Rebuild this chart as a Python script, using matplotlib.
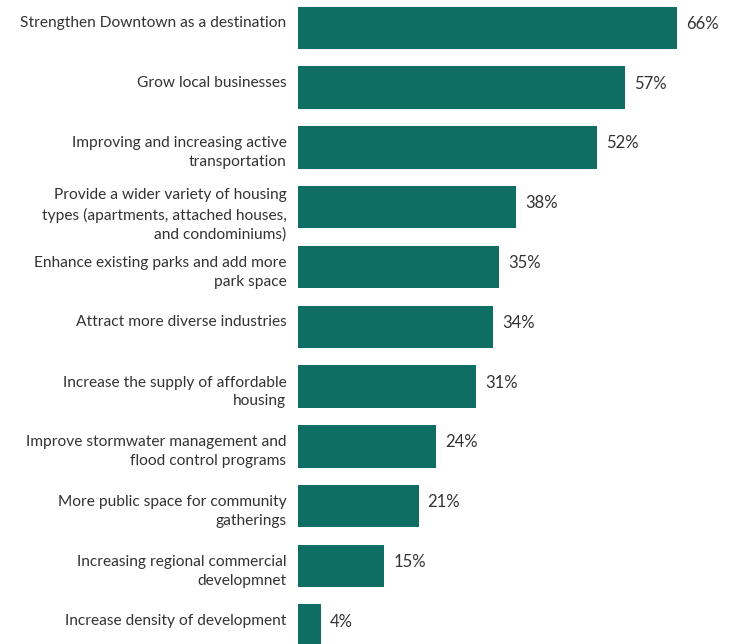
import numpy as np
import matplotlib.pyplot as plt

categories = [
    "Strengthen Downtown as a destination",
    "Grow local businesses",
    "Improving and increasing active\ntransportation",
    "Provide a wider variety of housing\ntypes (apartments, attached houses,\nand condominiums)",
    "Enhance existing parks and add more\npark space",
    "Attract more diverse industries",
    "Increase the supply of affordable\nhousing",
    "Improve stormwater management and\nflood control programs",
    "More public space for community\ngatherings",
    "Increasing regional commercial\ndevelopmnet",
    "Increase density of development",
]
values = [66, 57, 52, 38, 35, 34, 31, 24, 21, 15, 4]

bar_color = "#0e6e63"
text_color = "#333333"

W, H = 742, 644
fig = plt.figure(figsize=(W / 100, H / 100), dpi=100)
x0 = 298
ax = fig.add_axes([x0 / W, 0, 1 - x0 / W, 1])

px_per_pct = 5.745
pitch = 59.76
first_center = 27.95
ax.set_xlim(0, (W - x0) / px_per_pct)
ax.set_ylim((H - first_center) / pitch, -first_center / pitch)

y = np.arange(len(categories))
ax.barh(y, values, height=42.5 / pitch, color=bar_color, edgecolor="none")

fs = 11.2
for i, (cat, v) in enumerate(zip(categories, values)):
    nlines = cat.count("\n") + 1
    off = {1: -5, 2: 5.5, 3: 8}[nlines]
    ax.text(-11.5 / px_per_pct, i + off / pitch, cat, ha="right", va="center",
            fontsize=fs, color=text_color, linespacing=1.45, family="Lato")
    ax.text(v + 9 / px_per_pct, i - 4 / pitch, f"{v}%", ha="left", va="center",
            fontsize=fs + 0.8, color=text_color, family="Lato")

ax.axis("off")
fig.savefig("out.png", dpi=100)
